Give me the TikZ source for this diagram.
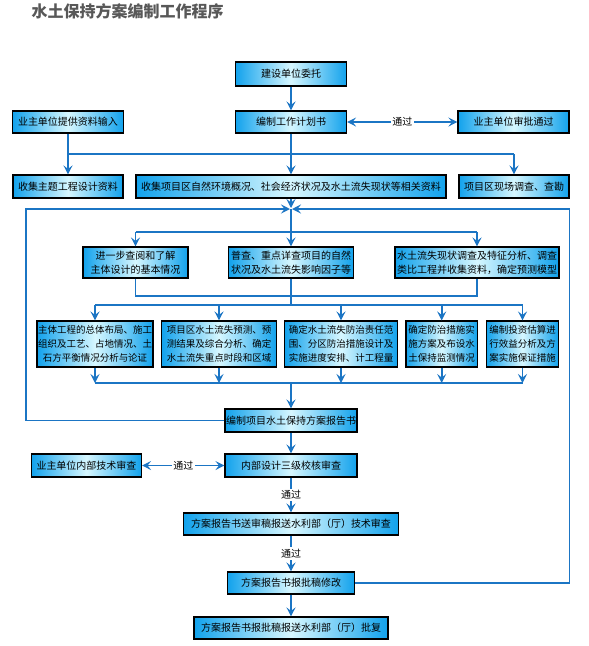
\documentclass[tikz,border=0pt]{standalone}
\usepackage{fontspec}
\newfontfamily\cjk{Noto Sans CJK SC}
\usetikzlibrary{arrows.meta}
\definecolor{lineblue}{RGB}{27,117,196}
\definecolor{boxedge}{RGB}{18,162,236}
\definecolor{boxmid}{RGB}{214,247,255}
\definecolor{titlegray}{RGB}{88,88,88}
\tikzset{
  box/.style={draw=black, line width=1.1pt, left color=boxedge, right color=boxedge, middle color=boxmid,
    inner sep=0pt, align=center, font=\cjk\fontsize{10}{14.3}\selectfont},
  sbox/.style={box, font=\cjk\fontsize{9.5}{14.3}\selectfont},
  ln/.style={draw=lineblue, line width=1.8pt, line join=miter},
  arr/.style={ln, -{Stealth[length=9pt,width=9pt,inset=3.5pt]}},
  arrtwo/.style={ln, {Stealth[length=9pt,width=9pt,inset=3.5pt]}-{Stealth[length=9pt,width=9pt,inset=3.5pt]}},
  lbl/.style={fill=white, inner sep=1.5pt, text=black, font=\cjk\fontsize{10}{12}\selectfont}
}
\begin{document}
\begin{tikzpicture}[x=1pt,y=-1pt]
\useasboundingbox (0,0) rectangle (589,646);
\fill[white] (0,0) rectangle (589,646);

\node[anchor=west, text=titlegray, font=\cjk\bfseries\fontsize{16}{16}\selectfont] (title) at (28,11) {水土保持方案编制工作程序};

% top
\node[box, minimum width=111pt, minimum height=24pt] (n1) at (291,74) {建设单位委托};
\node[box, minimum width=111pt, minimum height=22pt] (n2) at (291,122) {编制工作计划书};
\node[box, minimum width=111pt, minimum height=22pt] (nR) at (513.5,122) {业主单位审批通过};
\node[box, minimum width=111pt, minimum height=22pt] (nL) at (68,122) {业主单位提供资料输入};

\node[box, minimum width=110pt, minimum height=23pt] (r3a) at (68,186.5) {收集主题工程设计资料};
\node[box, minimum width=310pt, minimum height=23pt] (r3b) at (291,186.5) {收集项目区自然环境概况、社会经济状况及水土流失现状等相关资料};
\node[box, minimum width=110pt, minimum height=23pt] (r3c) at (514,186.5) {项目区现场调查、查勘};

% row 4
\node[box, minimum width=105pt, minimum height=31pt] (r4a) at (135.5,262.5) {进一步查阅和了解\\主体设计的基本情况};
\node[box, minimum width=125pt, minimum height=31pt] (r4b) at (291,262.5) {普查、重点详查项目的自然\\状况及水土流失影响因子等};
\node[box, minimum width=164pt, minimum height=31pt] (r4c) at (477,262.5) {水土流失现状调查及特征分析、调查\\类比工程并收集资料，确定预测模型};

% row 5
\node[sbox, minimum width=116pt, minimum height=46pt] (r5a) at (95,344) {主体工程的总体布局、施工\\组织及工艺、占地情况、土\\石方平衡情况分析与论证};
\node[sbox, minimum width=114.6pt, minimum height=46pt] (r5b) at (219,344) {项目区水土流失预测、预\\测结果及综合分析、确定\\水土流失重点时段和区域};
\node[sbox, minimum width=113pt, minimum height=46pt] (r5c) at (341,344) {确定水土流失防治责任范\\围、分区防治措施设计及\\实施进度安排、计工程量};
\node[sbox, minimum width=71.5pt, minimum height=46pt] (r5d) at (441.7,344) {确定防治措施实\\施方案及布设水\\土保持监测情况};
\node[sbox, minimum width=71.5pt, minimum height=46pt] (r5e) at (522.5,344) {编制投资估算进\\行效益分析及方\\案实施保证措施};

% bottom
\node[box, minimum width=132pt, minimum height=23pt] (bian) at (291,420.5) {编制项目水土保持方案报告书};
\node[box, minimum width=132pt, minimum height=23pt] (neibu) at (291,465.5) {内部设计三级校核审查};
\node[box, minimum width=110pt, minimum height=23pt] (yz2) at (86.5,465.5) {业主单位内部技术审查};
\node[box, minimum width=214.5pt, minimum height=22pt] (songshen) at (291,524) {方案报告书送审稿报送水利部（厅）技术审查};
\node[box, minimum width=127pt, minimum height=22pt] (xiugai) at (291,583) {方案报告书报批稿修改};
\node[box, minimum width=194pt, minimum height=22pt] (pifu) at (291,628) {方案报告书报批稿报送水利部（厅）批复};

% coordinates
\coordinate (h1L) at (68,154);
\coordinate (h1C) at (291,154);
\coordinate (h1R) at (514,154);
\coordinate (J) at (291,209);
\coordinate (LL) at (26,209);
\coordinate (RR) at (569.5,209);
\coordinate (h2L) at (135.5,232);
\coordinate (h2C) at (291,232);
\coordinate (h2R) at (477,232);
\coordinate (h3L) at (135.5,296);
\coordinate (h3C) at (291,296);
\coordinate (h3R) at (477,296);
\coordinate (h4L) at (95,305);
\coordinate (h4C) at (291,305);
\coordinate (h4R) at (522.5,305);
\coordinate (h5L) at (95,383);
\coordinate (h5C) at (291,383);
\coordinate (h5R) at (522.5,383);

% connectors top
\draw[arr] (n1) -- (n2);
\draw[arrtwo] (n2) -- node[lbl] {通过} (nR);
\draw[ln] (nL.south) -- (h1L) -- (h1R);
\draw[ln] (n2.south) -- (h1C);
\draw[arr] (h1L) -- (r3a.north);
\draw[arr] (h1C) -- (r3b.north);
\draw[arr] (h1R) -- (r3c.north);

% junction and loops
\draw[arr, shorten >=1pt] (r3b.south) -- (J);
\draw[arr, shorten >=1pt] (bian.west) -| (LL) -- (J);
\draw[arr, shorten >=1pt] (xiugai.east) -| (RR) -- (J);
\draw[ln] (J) -- (h2C);
\draw[ln] (h2L) -- (h2R);
\draw[arr] (h2L) -- (r4a.north);
\draw[arr] (h2C) -- (r4b.north);
\draw[arr] (h2R) -- (r4c.north);

% row 4 -> row 5
\draw[ln] (r4a.south) -- (h3L) -- (h3R) -- (r4c.south);
\draw[ln] (r4b.south) -- (h4C);
\draw[ln] (h4L) -- (h4R);
\draw[arr] (h4L) -- (r5a.north);
\draw[arr] (r5b.north |- h4C) -- (r5b.north);
\draw[arr] (r5c.north |- h4C) -- (r5c.north);
\draw[arr] (r5d.north |- h4C) -- (r5d.north);
\draw[arr] (h4R) -- (r5e.north);

% row 5 -> report
\draw[arr] (r5a.south) -- (h5L);
\draw[arr] (r5b.south) -- (r5b.south |- h5C);
\draw[arr] (r5c.south) -- (r5c.south |- h5C);
\draw[arr] (r5d.south) -- (r5d.south |- h5C);
\draw[arr] (r5e.south) -- (h5R);
\draw[ln] (h5L) -- (h5R);
\draw[arr] (h5C) -- (bian.north);

% bottom chain
\draw[arr] (bian) -- (neibu);
\draw[arrtwo] (yz2) -- node[lbl] {通过} (neibu);
\draw[arr] (neibu) -- node[lbl] {通过} (songshen);
\draw[arr] (songshen) -- node[lbl] {通过} (xiugai);
\draw[arr] (xiugai) -- (pifu);
\end{tikzpicture}
\end{document}
